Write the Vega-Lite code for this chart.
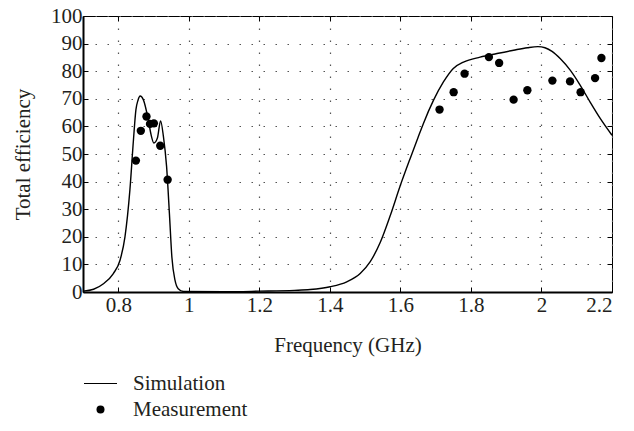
{
  "$schema": "https://vega.github.io/schema/vega-lite/v6.json",
  "width": 529,
  "height": 276,
  "autosize": {"type": "none"},
  "padding": {"left": 83, "top": 16, "right": 22, "bottom": 139},
  "background": "white",
  "config": {
    "font": "Liberation Serif",
    "view": {"stroke": "black", "strokeWidth": 1},
    "axis": {
      "labelFont": "Liberation Serif",
      "titleFont": "Liberation Serif",
      "labelFontSize": 21,
      "titleFontSize": 21,
      "titleFontWeight": "normal",
      "labelColor": "#231f20",
      "titleColor": "#231f20",
      "domainColor": "black",
      "domainWidth": 2,
      "tickColor": "black",
      "tickSize": -5,
      "gridColor": "#555555",
      "gridDash": [1.5, 10.5],
      "gridWidth": 1.2,
      "gridOpacity": 1
    },
    "legend": {
      "labelFont": "Liberation Serif",
      "labelFontSize": 21,
      "labelColor": "#231f20"
    }
  },
  "datasets": {
    "sim": [
      {"f": 0.70, "e": 0.3},
      {"f": 0.73, "e": 1.0},
      {"f": 0.758, "e": 3.0},
      {"f": 0.786, "e": 6.7},
      {"f": 0.805, "e": 11.5},
      {"f": 0.819, "e": 20},
      {"f": 0.833, "e": 37},
      {"f": 0.843, "e": 55},
      {"f": 0.850, "e": 66},
      {"f": 0.856, "e": 69.5},
      {"f": 0.862, "e": 71},
      {"f": 0.871, "e": 69.7},
      {"f": 0.885, "e": 62.5},
      {"f": 0.893, "e": 57},
      {"f": 0.901, "e": 54},
      {"f": 0.911, "e": 55.8},
      {"f": 0.920, "e": 62},
      {"f": 0.928, "e": 56.4},
      {"f": 0.937, "e": 45.5},
      {"f": 0.945, "e": 28.5},
      {"f": 0.952, "e": 12.7},
      {"f": 0.961, "e": 4.2},
      {"f": 0.970, "e": 1.2},
      {"f": 0.985, "e": 0.2},
      {"f": 1.10, "e": 0.1},
      {"f": 1.20, "e": 0.3},
      {"f": 1.30, "e": 0.6},
      {"f": 1.344, "e": 0.9},
      {"f": 1.401, "e": 1.9},
      {"f": 1.448, "e": 3.7},
      {"f": 1.486, "e": 6.7},
      {"f": 1.514, "e": 10.9},
      {"f": 1.543, "e": 18},
      {"f": 1.571, "e": 27.6},
      {"f": 1.599, "e": 38.3},
      {"f": 1.628, "e": 48.5},
      {"f": 1.650, "e": 56},
      {"f": 1.665, "e": 61},
      {"f": 1.694, "e": 69.5},
      {"f": 1.722, "e": 76.1},
      {"f": 1.750, "e": 81},
      {"f": 1.779, "e": 83.3},
      {"f": 1.826, "e": 85.1},
      {"f": 1.874, "e": 86.4},
      {"f": 1.921, "e": 87.6},
      {"f": 1.960, "e": 88.5},
      {"f": 1.990, "e": 88.9},
      {"f": 2.010, "e": 88.5},
      {"f": 2.030, "e": 87.2},
      {"f": 2.053, "e": 84.6},
      {"f": 2.082, "e": 80.3},
      {"f": 2.110, "e": 74.9},
      {"f": 2.138, "e": 68.8},
      {"f": 2.167, "e": 62.8},
      {"f": 2.200, "e": 56.8}
    ],
    "meas": [
      {"f": 0.850, "e": 47.6},
      {"f": 0.864, "e": 58.4},
      {"f": 0.880, "e": 63.6},
      {"f": 0.890, "e": 60.9},
      {"f": 0.901, "e": 61.1},
      {"f": 0.919, "e": 53.0},
      {"f": 0.940, "e": 40.7},
      {"f": 1.711, "e": 66.1},
      {"f": 1.751, "e": 72.4},
      {"f": 1.782, "e": 79.1},
      {"f": 1.851, "e": 85.1},
      {"f": 1.880, "e": 83.0},
      {"f": 1.921, "e": 69.7},
      {"f": 1.960, "e": 73.1},
      {"f": 2.031, "e": 76.6},
      {"f": 2.081, "e": 76.3},
      {"f": 2.111, "e": 72.4},
      {"f": 2.152, "e": 77.5},
      {"f": 2.170, "e": 84.8}
    ]
  },
  "resolve": {"axis": {"x": "independent", "y": "independent"}},
  "layer": [
    {
      "data": {"name": "sim"},
      "transform": [{"calculate": "'Simulation'", "as": "series"}],
      "mark": {"type": "line", "stroke": "black", "strokeWidth": 1.4, "interpolate": "monotone"},
      "encoding": {
        "x": {
          "field": "f",
          "type": "quantitative",
          "scale": {"domain": [0.7, 2.2], "nice": false, "zero": false},
          "axis": {
            "title": "Frequency (GHz)",
            "values": [0.8, 1, 1.2, 1.4, 1.6, 1.8, 2, 2.2],
            "format": ".1~f",
            "labelPadding": 7,
            "titlePadding": 19,
            "grid": true
          }
        },
        "y": {
          "field": "e",
          "type": "quantitative",
          "scale": {"domain": [0, 100], "nice": false},
          "axis": {
            "title": "Total efficiency",
            "values": [0, 10, 20, 30, 40, 50, 60, 70, 80, 90, 100],
            "labelPadding": 6,
            "titlePadding": 17,
            "grid": true
          }
        },
        "color": {
          "field": "series",
          "type": "nominal",
          "scale": {"domain": ["Simulation", "Measurement"], "range": ["black", "black"]},
          "legend": {
            "title": null,
            "orient": "none",
            "legendX": 7,
            "legendY": 357,
            "padding": 0,
            "symbolSize": 1089,
            "labelOffset": 22,
            "rowPadding": 4,
            "encode": {
              "symbols": {
                "update": {
                  "shape": {"signal": "datum.value === 'Simulation' ? 'stroke' : 'circle'"},
                  "size": {"signal": "datum.value === 'Simulation' ? 1089 : 64"},
                  "fill": {"signal": "datum.value === 'Simulation' ? 'transparent' : 'black'"},
                  "stroke": {"value": "black"},
                  "strokeWidth": {"signal": "datum.value === 'Simulation' ? 1.2 : 0"}
                }
              }
            }
          }
        }
      }
    },
    {
      "data": {"name": "meas"},
      "transform": [{"calculate": "'Measurement'", "as": "series"}],
      "mark": {"type": "point", "filled": true, "size": 70, "opacity": 1},
      "encoding": {
        "x": {
          "field": "f",
          "type": "quantitative",
          "axis": {
            "orient": "top",
            "title": null,
            "labels": false,
            "domain": false,
            "grid": false,
            "values": [0.8, 1, 1.2, 1.4, 1.6, 1.8, 2, 2.2]
          }
        },
        "y": {
          "field": "e",
          "type": "quantitative",
          "axis": {
            "orient": "right",
            "title": null,
            "labels": false,
            "domain": false,
            "grid": false,
            "values": [0, 10, 20, 30, 40, 50, 60, 70, 80, 90, 100]
          }
        },
        "color": {"field": "series", "type": "nominal"}
      }
    }
  ]
}
